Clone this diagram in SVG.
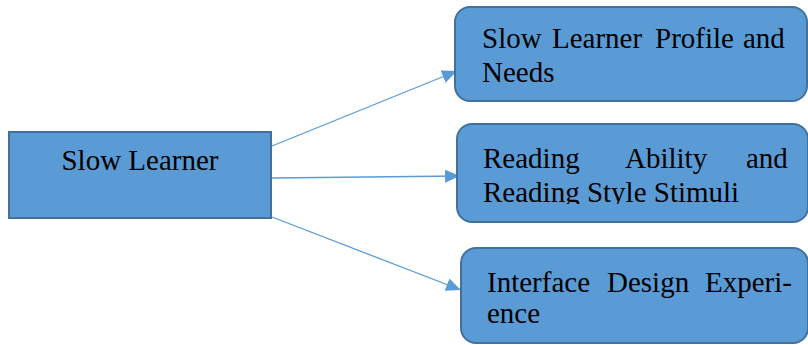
<svg xmlns="http://www.w3.org/2000/svg" width="808" height="345" viewBox="0 0 808 345">
<style>
.box{fill:#5B9BD5;stroke:#41719C;stroke-width:2}
.t{font-family:"Liberation Serif","Times New Roman",serif;font-size:29px;fill:#000}
.c{stroke:#5B9BD5;stroke-width:1.3;fill:none}
</style>
<defs>
<marker id="ah" markerUnits="userSpaceOnUse" markerWidth="16" markerHeight="14" refX="15" refY="6.5" orient="auto">
<path d="M0,0 L15,6.5 L0,13 Z" fill="#5B9BD5"/>
</marker>
<clipPath id="clip2"><rect x="457" y="124" width="352" height="80"/></clipPath>
</defs>
<g id="connectors">
<line class="c" x1="272" y1="146" x2="457" y2="71" marker-end="url(#ah)"/>
<line class="c" x1="272" y1="178" x2="460" y2="176" marker-end="url(#ah)"/>
<line class="c" x1="272" y1="217" x2="461" y2="290" marker-end="url(#ah)"/>
</g>
<g id="slow-learner">
<rect class="box" x="9" y="132" width="262" height="86"/>
<text class="t" x="140" y="170" text-anchor="middle">Slow Learner</text>
</g>
<g id="profile-needs">
<rect class="box" x="455" y="7" width="352" height="94" rx="15"/>
<text class="t" y="48"><tspan x="482">Slow</tspan><tspan x="552">Learner</tspan><tspan x="655">Profile</tspan><tspan x="743">and</tspan></text>
<text class="t" x="482" y="82">Needs</text>
</g>
<g id="reading-ability">
<rect class="box" x="457" y="124" width="351" height="98" rx="15"/>
<g clip-path="url(#clip2)">
<text class="t" y="168"><tspan x="483">Reading</tspan><tspan x="625">Ability</tspan><tspan x="746">and</tspan></text>
<text class="t" x="483" y="202">Reading Style Stimuli</text>
</g>
</g>
<g id="interface-design">
<rect class="box" x="461" y="248" width="347" height="95" rx="15"/>
<text class="t" y="292"><tspan x="487">Interface</tspan><tspan x="607">Design</tspan><tspan x="705">Experi-</tspan></text>
<text class="t" x="487" y="323">ence</text>
</g>
</svg>
